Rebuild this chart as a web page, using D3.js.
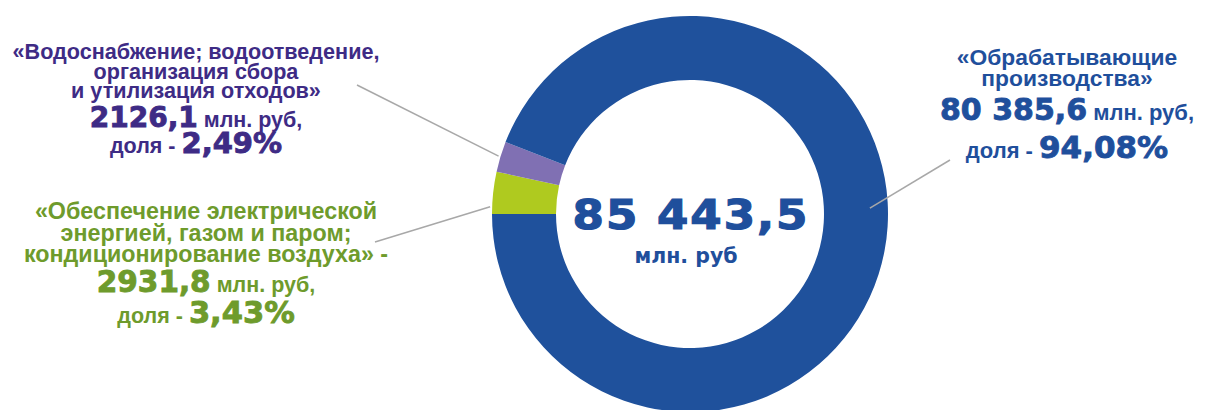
<!DOCTYPE html>
<html>
<head>
<meta charset="utf-8">
<script src="https://cdn.jsdelivr.net/npm/d3@7"></script>
<style>
body{margin:0;background:#fff;}
</style>
</head>
<body>
<svg id="chart"></svg>
<script>
// data, in pie order (clockwise, starting at 9 o'clock)
var categories = ["Обеспечение электрической энергией, газом и паром; кондиционирование воздуха",
                  "Водоснабжение; водоотведение, организация сбора и утилизация отходов",
                  "Обрабатывающие производства"];
var labelLines = [
    ["«Обеспечение электрической", "энергией, газом и паром;", "кондиционирование воздуха» -"],
    ["«Водоснабжение; водоотведение,", "организация сбора", "и утилизация отходов»"],
    ["«Обрабатывающие", "производства»"]
];
var values = [2931.8, 2126.1, 80385.6];
var shares = [3.43, 2.49, 94.08];
var unit = "млн. руб";
var shareWord = "доля - ";

// layout
var screen = {width:1208, height:410};
var center = {x:690, y:214};
var outerR = 198, innerR = 134;
var colors = ["#afca1f", "#8070b3", "#1f519c"];
var textColors = ["#6e9b2c", "#3e2b85", "#1f4f9c"];
var labelPos = [
    {x:206, y:219, lh:21.5, bigY:292, shareY:323, big:29.5, name:23.3, small:21.5},
    {x:196, y:59, lh:19.7, bigY:127, shareY:153, big:28, name:21.6, small:21.5},
    {x:1067, y:65, lh:21, bigY:120, shareY:158, big:30, name:22.8, small:22}
];
var leaderFrac = [0.17, 0.5, 0.463];
var leaderR = [200, 200, 180];
var leaderEnd = [[375,242],[357,85],[950,160]];

var ru = d3.formatLocale({decimal:",", thousands:" ", grouping:[3], currency:["","₽"]});
var fmtNum = function(v){
    return v >= 10000 ? ru.format(",.1f")(v) : ru.format(".1f")(v);
}
var fmtShare = ru.format(".2f");

var svg = d3.select("#chart")
    .attr("width", screen.width)
    .attr("height", screen.height);

var pie = d3.pie()
    .sort(null)
    .startAngle(-Math.PI/2)
    .endAngle(3*Math.PI/2);

var arcs = pie(values);

var arc = d3.arc()
    .innerRadius(innerR)
    .outerRadius(outerR);

var ring = svg.append("g")
    .attr("transform", "translate(" + center.x + "," + center.y + ")");

ring.selectAll("path")
    .data(arcs)
    .enter()
    .append("path")
    .attr("d", arc)
    .attr("fill", function(d,i){ return colors[i] });

// leader lines
var onArc = function(d, i){
    var a = d.startAngle + (d.endAngle - d.startAngle) * leaderFrac[i];
    return [center.x + leaderR[i]*Math.sin(a), center.y - leaderR[i]*Math.cos(a)];
}
svg.selectAll("line.leader")
    .data(arcs)
    .enter()
    .append("line")
    .attr("class", "leader")
    .attr("x1", function(d,i){ return onArc(d,i)[0] })
    .attr("y1", function(d,i){ return onArc(d,i)[1] })
    .attr("x2", function(d,i){ return leaderEnd[i][0] })
    .attr("y2", function(d,i){ return leaderEnd[i][1] })
    .attr("stroke", "#a8a8a8")
    .attr("stroke-width", 1.5);

// labels
var labelFont = "'Liberation Sans', Arial, sans-serif";
var numFont = "'DejaVu Sans', Verdana, sans-serif";

categories.forEach(function(c, i){
    var p = labelPos[i];
    var g = svg.append("g")
        .attr("fill", textColors[i])
        .attr("font-weight", "bold")
        .attr("text-anchor", "middle");

    g.selectAll("text.name")
        .data(labelLines[i])
        .enter()
        .append("text")
        .attr("class", "name")
        .attr("x", p.x)
        .attr("y", function(d,j){ return p.y + j*p.lh })
        .attr("font-family", labelFont)
        .attr("font-size", p.name)
        .text(function(d){ return d });

    var t1 = g.append("text").attr("x", p.x).attr("y", p.bigY);
    t1.append("tspan")
        .attr("font-family", numFont)
        .attr("font-size", p.big)
        .attr("stroke", textColors[i])
        .attr("stroke-width", 0.9)
        .text(fmtNum(values[i]));
    t1.append("tspan")
        .attr("font-family", labelFont)
        .attr("font-size", p.small)
        .text(" " + unit + ",");

    var t2 = g.append("text").attr("x", p.x).attr("y", p.shareY);
    t2.append("tspan")
        .attr("font-family", labelFont)
        .attr("font-size", p.small)
        .text(shareWord);
    t2.append("tspan")
        .attr("font-family", numFont)
        .attr("font-size", p.big + 1)
        .attr("stroke", textColors[i])
        .attr("stroke-width", 0.9)
        .text(fmtShare(shares[i]) + "%");
});

// total in the middle
svg.append("text")
    .attr("transform", "translate(" + (center.x + 1) + ",229) scale(1.1,1)")
    .attr("text-anchor", "middle")
    .attr("font-family", numFont)
    .attr("font-weight", "bold")
    .attr("font-size", 41)
    .attr("letter-spacing", 1.8)
    .attr("fill", "#1f4f9c")
    .attr("stroke", "#1f4f9c")
    .attr("stroke-width", 1.2)
    .text(fmtNum(d3.sum(values)));

svg.append("text")
    .attr("x", center.x - 4)
    .attr("y", 263)
    .attr("text-anchor", "middle")
    .attr("font-family", numFont)
    .attr("font-weight", "bold")
    .attr("font-size", 20.5)
    .attr("fill", "#1f4f9c")
    .text(unit);
</script>
</body>
</html>
